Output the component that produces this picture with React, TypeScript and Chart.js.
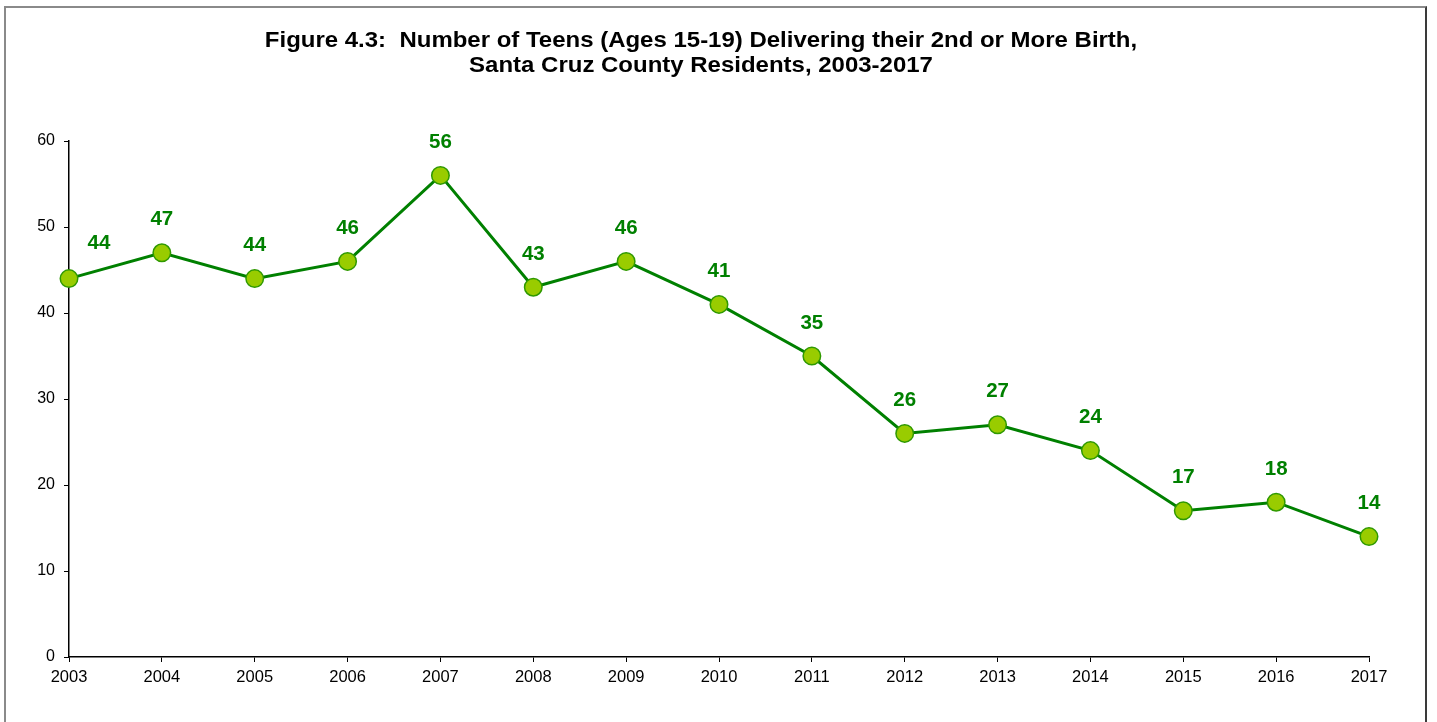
import React, { useEffect, useRef } from "react";
import { Chart, registerables } from "chart.js";

Chart.register(...registerables);

const years = ["2003", "2004", "2005", "2006", "2007", "2008", "2009", "2010", "2011", "2012", "2013", "2014", "2015", "2016", "2017"];
const teenRepeatBirths = [44, 47, 44, 46, 56, 43, 46, 41, 35, 26, 27, 24, 17, 18, 14];
const titleLines = [
  "Figure 4.3:  Number of Teens (Ages 15-19) Delivering their 2nd or More Birth,",
  "Santa Cruz County Residents, 2003-2017",
];
const yMin = 0;
const yMax = 60;
const yStep = 10;

const FONT = "'Liberation Sans', Arial, Helvetica, sans-serif";

const titlePlugin = {
  id: "customTitle",
  afterDraw(chart: any) {
    const ctx = chart.ctx;
    ctx.save();
    ctx.font = `bold 22px ${FONT}`;
    ctx.fillStyle = "#000";
    ctx.textAlign = "center";
    ctx.textBaseline = "alphabetic";
    const cx = chart.width / 2 - 17.5;
    ctx.translate(cx, 0);
    ctx.scale(1.09, 1);
    titleLines.forEach((line, i) => {
      ctx.fillText(line, 0, 47 + i * 25);
    });
    ctx.restore();
  },
};

const dataLabelPlugin = {
  id: "dataLabels",
  afterDatasetsDraw(chart: any) {
    const ctx = chart.ctx;
    const meta = chart.getDatasetMeta(0);
    const values = chart.data.datasets[0].data;
    ctx.save();
    ctx.font = `bold 20.5px ${FONT}`;
    ctx.fillStyle = "#008000";
    ctx.textAlign = "center";
    ctx.textBaseline = "middle";
    meta.data.forEach((pt: any, i: number) => {
      const dx = i === 0 ? 30 : 0;
      const dy = i === 0 ? -35 : -33;
      ctx.fillText(String(values[i]), pt.x + dx, pt.y + dy);
    });
    ctx.restore();
  },
};

export default function App() {
  const canvasRef = useRef<HTMLCanvasElement | null>(null);

  useEffect(() => {
    if (!canvasRef.current) return;
    const chart = new Chart(canvasRef.current, {
      type: "line",
      data: {
        labels: years,
        datasets: [
          {
            data: teenRepeatBirths,
            borderColor: "#008000",
            borderWidth: 3,
            tension: 0,
            pointRadius: 8.75,
            pointHoverRadius: 8.75,
            pointBackgroundColor: "#99CC00",
            pointBorderColor: "#2F9900",
            pointBorderWidth: 1.5,
            clip: false as any,
          },
        ],
      },
      options: {
        animation: false,
        responsive: false,
        maintainAspectRatio: false,
        layout: { padding: { top: 141, left: 0, right: 68, bottom: 0 } },
        plugins: {
          legend: { display: false },
          title: { display: false },
          tooltip: { enabled: false },
        },
        scales: {
          x: {
            type: "category",
            offset: false,
            grid: {
              drawOnChartArea: false,
              drawTicks: true,
              tickLength: 5,
              color: "#000",
            },
            border: { display: true, color: "#000", width: 1.5 },
            ticks: {
              color: "#000",
              font: { family: FONT, size: 16.5 },
              padding: 6,
              maxRotation: 0,
              autoSkip: false,
            },
            afterFit(scale: any) {
              scale.height = 65;
            },
          },
          y: {
            min: yMin,
            max: yMax,
            grid: {
              drawOnChartArea: false,
              drawTicks: true,
              tickLength: 5,
              color: "#000",
            },
            border: { display: true, color: "#000", width: 1.5 },
            ticks: {
              stepSize: yStep,
              color: "#000",
              font: { family: FONT, size: 16 },
              padding: 9,
            },
            afterFit(scale: any) {
              scale.width = 69;
            },
          },
        },
      },
      plugins: [titlePlugin, dataLabelPlugin],
    });
    return () => chart.destroy();
  }, []);

  return (
    <div
      style={{
        position: "fixed",
        left: 0,
        top: 0,
        width: 1437,
        height: 722,
        background: "#fff",
        overflow: "hidden",
      }}
    >
      <div
        style={{
          position: "absolute",
          left: 4,
          top: 6,
          width: 1419,
          height: 740,
          borderLeft: "2px solid #8a8a8a",
          borderTop: "2px solid #8a8a8a",
          borderRight: "2px solid #3a3a3a",
        }}
      />
      <canvas
        ref={canvasRef}
        width={1437}
        height={722}
        style={{ position: "absolute", left: 0, top: 0, width: 1437, height: 722 }}
      />
    </div>
  );
}
